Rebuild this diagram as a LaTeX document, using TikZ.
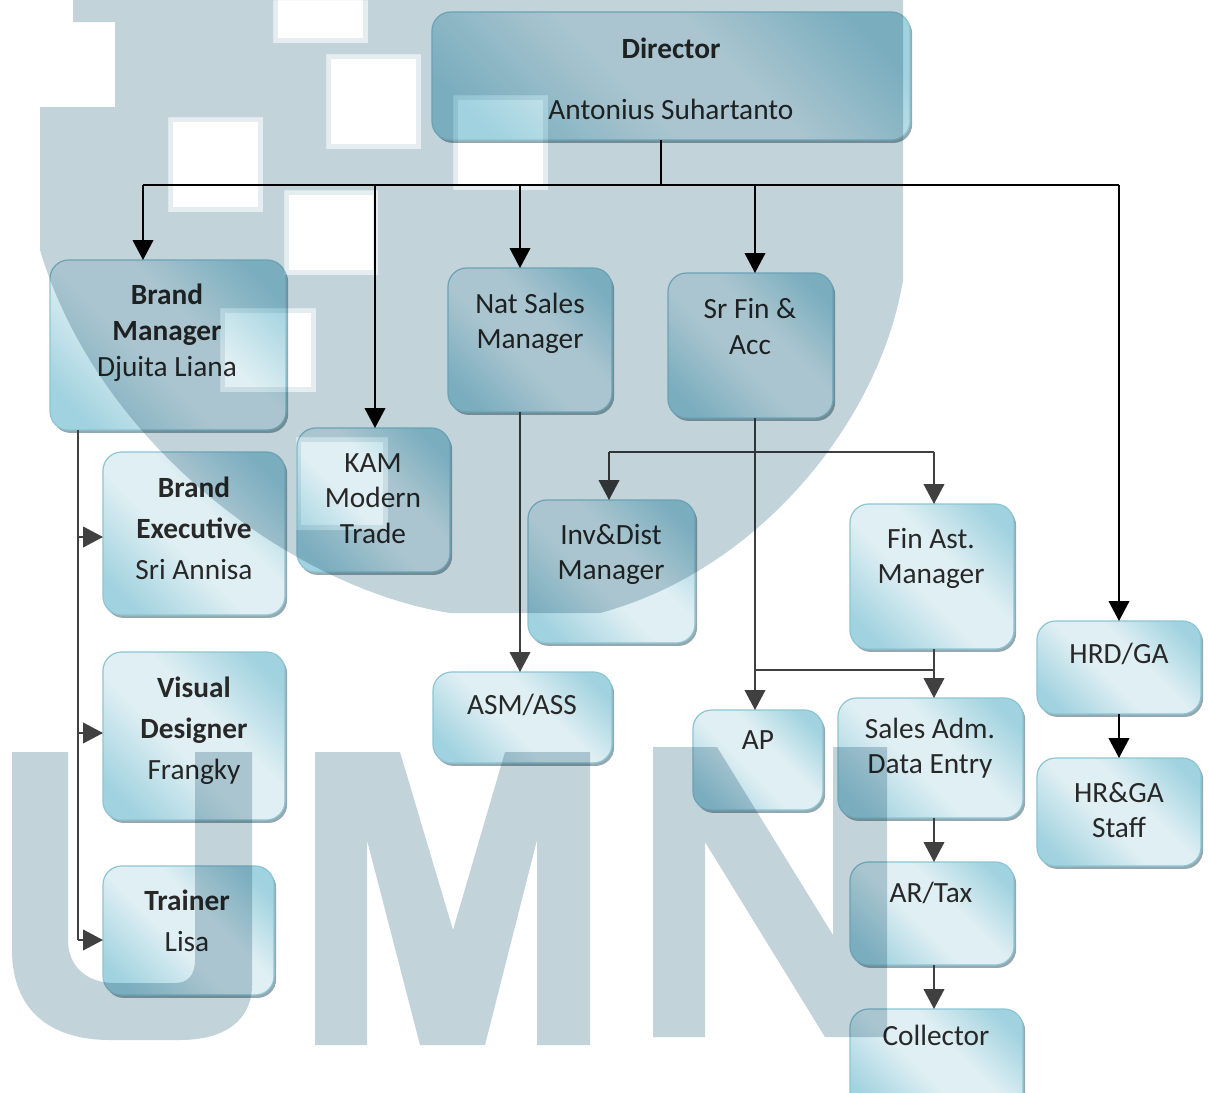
\documentclass[tikz,border=0pt]{standalone}
\usepackage{fontspec}
\setmainfont{Carlito}
\usetikzlibrary{arrows.meta,shadows,calc}
\definecolor{wmc}{RGB}{195,211,218}
\definecolor{wmsoft}{RGB}{230,237,240}
\definecolor{gEdge}{RGB}{160,210,223}
\definecolor{gLight}{RGB}{223,239,243}
\definecolor{bordc}{RGB}{140,197,212}
\definecolor{shadc}{RGB}{150,168,175}
\definecolor{txtc}{RGB}{40,40,40}
\definecolor{lnc}{RGB}{64,64,64}
\pgfdeclarehorizontalshading{glass}{100bp}{color(0bp)=(gEdge); color(22bp)=(gEdge); color(44bp)=(gLight); color(58bp)=(gLight); color(78bp)=(gEdge); color(100bp)=(gEdge)}
\tikzset{
  orgbox/.style={rectangle, rounded corners=14pt, draw=bordc, line width=0.9pt,
    shading=glass, shading angle=45, inner sep=0pt, outer sep=0pt,
    drop shadow={shadow xshift=1.6pt, shadow yshift=-2.2pt, fill=shadc, opacity=1}},
  txt/.style={font=\fontsize{22}{26}\selectfont, text=txtc, inner sep=0pt, anchor=base},
  conn/.style={draw=black, line width=1.4pt},
  arr/.style={conn, -{Triangle[width=15.5pt,length=15pt]}},
  conntwo/.style={draw=lnc, line width=1.4pt},
  arrtwo/.style={conntwo, -{Triangle[width=15.5pt,length=15pt]}},
  wmring/.style={draw=wmsoft, line width=3.5pt},
}
\newcommand\obox[5]{\node[orgbox, minimum width={(#4-#2)*0.75pt}, minimum height={(#5-#3)*0.75pt}] (#1) at ({(#2+#4)/2},{(#3+#5)/2}) {};}
\newcommand\tline[4]{\node[txt] (#1) at (#2,#3) {#4};}
\newcommand\wmhole[4]{\draw[wmring] ({#1+2.4},{#2+2.4}) rectangle ({#3-2.4},{#4-2.4});}
\begin{document}
\begin{tikzpicture}[x=0.75pt,y=-0.75pt]
\fill[white] (0,0) rectangle (1208,1093);
\useasboundingbox (0,0) rectangle (1208,1093);
% boxes
\obox{dir}{432}{12}{910}{140}
\obox{bm}{50}{260}{286}{430}
\obox{kam}{297}{428}{450}{572}
\obox{nsm}{448}{268}{612}{412}
\obox{sfa}{668}{273}{833}{418}
\obox{be}{103}{452}{285}{615}
\obox{vd}{103}{652}{285}{820}
\obox{tr}{103}{866}{274}{995}
\obox{inv}{528}{500}{695}{643}
\obox{fam}{850}{504}{1014}{649}
\obox{asm}{433}{672}{612}{763}
\obox{ap}{693}{710}{823}{810}
\obox{sad}{838}{698}{1023}{818}
\obox{art}{850}{862}{1014}{965}
\obox{col}{850}{1009}{1023}{1115}
\obox{hrd}{1037}{621}{1201}{714}
\obox{hrs}{1037}{758}{1201}{866}
% texts
\tline{dirA}{671}{58}{\bfseries Director}
\tline{dirB}{671}{119}{Antonius Suhartanto}
\tline{bmA}{167}{304}{\bfseries Brand}
\tline{bmB}{167}{340}{\bfseries Manager}
\tline{bmC}{167}{376}{Djuita Liana}
\tline{kamA}{373}{472}{KAM}
\tline{kamB}{373}{507}{Modern}
\tline{kamC}{373}{543}{Trade}
\tline{nsmA}{530}{313}{Nat Sales}
\tline{nsmB}{530}{348}{Manager}
\tline{sfaA}{750}{318}{Sr Fin \&}
\tline{sfaB}{750}{354}{Acc}
\tline{beA}{194}{497}{\bfseries Brand}
\tline{beB}{194}{538}{\bfseries Executive}
\tline{beC}{194}{579}{Sri Annisa}
\tline{vdA}{194}{697}{\bfseries Visual}
\tline{vdB}{194}{738}{\bfseries Designer}
\tline{vdC}{194}{779}{Frangky}
\tline{trA}{187}{910}{\bfseries Trainer}
\tline{trB}{187}{951}{Lisa}
\tline{invA}{611}{544}{Inv\&Dist}
\tline{invB}{611}{579}{Manager}
\tline{famA}{931}{548}{Fin Ast.}
\tline{famB}{931}{583}{Manager}
\tline{asmA}{522}{714}{ASM/ASS}
\tline{apA}{758}{749}{AP}
\tline{sadA}{930}{738}{Sales Adm.}
\tline{sadB}{930}{773}{Data Entry}
\tline{artA}{931}{902}{AR/Tax}
\tline{colA}{936}{1045}{Collector}
\tline{hrdA}{1119}{663}{HRD/GA}
\tline{hrsA}{1119}{802}{HR\&GA}
\tline{hrsB}{1119}{837}{Staff}
% junctions
\coordinate (jd) at (661,185);
\coordinate (jbL) at (143,185);
\coordinate (jkam) at (375,185);
\coordinate (jnsm) at (520,185);
\coordinate (jsfa) at (755,185);
\coordinate (jbR) at (1119,185);
\coordinate (jbe) at (78,537);
\coordinate (jvd) at (78,733);
\coordinate (jtr) at (78,940);
\coordinate (jinv) at (609,452);
\coordinate (jfam) at (934,452);
\coordinate (jap) at (755,670);
\coordinate (jsad) at (934,670);
% connectors
\draw[conn] (dir.south -| jd) -- (jd);
\draw[conn] (jbL) -- (jbR);
\draw[arr] (jbL) -- (jbL |- bm.north);
\draw[arr] (jkam) -- (jkam |- kam.north);
\draw[arr] (jnsm) -- (jnsm |- nsm.north);
\draw[arr] (jsfa) -- (jsfa |- sfa.north);
\draw[arr] (jbR) -- (jbR |- hrd.north);
\draw[conntwo] (bm.south -| jtr) -- (jtr);
\draw[arrtwo] (jbe) -- (jbe -| be.west);
\draw[arrtwo] (jvd) -- (jvd -| vd.west);
\draw[arrtwo] (jtr) -- (jtr -| tr.west);
\draw[arrtwo] (nsm.south -| jnsm) -- (asm.north -| jnsm);
\draw[arrtwo] (sfa.south -| jsfa) -- (ap.north -| jsfa);
\draw[conntwo] (jinv) -- (jfam);
\draw[arrtwo] (jinv) -- (jinv |- inv.north);
\draw[arrtwo] (jfam) -- (jfam |- fam.north);
\draw[arrtwo] (fam.south -| jsad) -- (sad.north -| jsad);
\draw[conntwo] (jap) -- (jsad);
\draw[arrtwo] (sad.south -| jsad) -- (art.north -| jsad);
\draw[arrtwo] (art.south -| jsad) -- (col.north -| jsad);
\draw[arr] (hrd.south) -- (hrs.north);
% watermark
\begin{scope}[blend mode=multiply]
\fill[wmc, even odd rule] (73,0) -- (903,0) -- (903,280) .. controls (880,420) and (760,570) .. (600,613) -- (450,613) .. controls (300,590) and (100,450) .. (40,250) -- (40,107) -- (115,107) -- (115,22) -- (73,22) -- cycle
  (273,0) rectangle (368,43) (326,54) rectangle (421,149) (168,117) rectangle (263,212)
  (284,190) rectangle (378,275) (220,308) rectangle (316,392) (453,95) rectangle (548,190)
  (296,437) rectangle (388,530);
\wmhole{273}{-20}{368}{43}
\wmhole{326}{54}{421}{149}
\wmhole{168}{117}{263}{212}
\wmhole{284}{190}{378}{275}
\wmhole{220}{308}{316}{392}
\wmhole{453}{95}{548}{190}
\wmhole{296}{437}{388}{530}
\fill[wmc] (12,752) -- (12,950) .. controls (12,1010) and (50,1040) .. (110,1040) -- (180,1040) .. controls (225,1040) and (252,1020) .. (252,985) -- (252,752) -- (195,752) -- (195,960) .. controls (195,975) and (188,983) .. (175,983) -- (115,983) .. controls (85,983) and (68,965) .. (68,940) -- (68,752) -- cycle;
\fill[wmc] (315,1045) -- (315,752) -- (400,752) -- (453,930) -- (505,752) -- (590,752) -- (590,1045) -- (537,1045) -- (537,840) -- (485,1045) -- (420,1045) -- (367,840) -- (367,1045) -- cycle;
\fill[wmc] (653,1037) -- (653,747) -- (717,747) -- (833,935) -- (833,747) -- (887,747) -- (887,1037) -- (825,1037) -- (705,842) -- (705,1037) -- cycle;
\end{scope}
\end{tikzpicture}
\end{document}
